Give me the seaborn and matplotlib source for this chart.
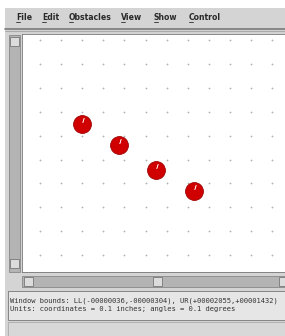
import itertools

import matplotlib.pyplot as plt
import matplotlib.patches as mpatches
import matplotlib.transforms as mtransforms
import pandas as pd
import seaborn as sns


W, H = 285, 336

MENU_ITEMS = ["File", "Edit", "Obstacles", "View", "Show", "Control"]
MENU_X = [16, 42, 69, 121, 154, 189]

GRID_COLS = [0, 1, 2, 3, 4, 5, 6, 7, 8, 9, 10, 11]
GRID_ROWS = [0, 1, 2, 3, 4, 5, 6, 7, 8, 9]

OBSTACLE_X = [2.0, 3.75, 5.5, 7.3]
OBSTACLE_Y = [3.5, 4.4, 5.45, 6.3]

STATUS_LINES = [
    "Window bounds: LL(-00000036,-00000304), UR(+00002055,+00001432)",
    "Units: coordinates = 0.1 inches; angles = 0.1 degrees",
]

GRAY = "#d4d4d4"


def box(fig, x, y, w, h, fc, ec="none", lw=0.6):
    # pixel box, origin top-left
    fig.patches.append(mpatches.Rectangle((x / W, 1 - (y + h) / H), w / W, h / H,
                                          transform=fig.transFigure, fc=fc, ec=ec, lw=lw))


def hline(fig, x0, x1, y, color, lw=1.0):
    fig.lines.append(plt.Line2D([x0 / W, x1 / W], [1 - y / H, 1 - y / H],
                                transform=fig.transFigure, color=color, lw=lw))


def draw_chrome(fig):
    box(fig, 5, 8, 280, 328, GRAY)
    for label, x in zip(MENU_ITEMS, MENU_X):
        fig.text(x / W, 1 - 17 / H, label, fontsize=5.6, fontweight="bold",
                 color="#2a2a2a", va="center", ha="left")
        hline(fig, x, x + 4, 22, "#2a2a2a", lw=0.6)
    hline(fig, 5, 285, 29, "#7a7a7a", lw=1.2)
    hline(fig, 5, 285, 31, "#aaaaaa", lw=0.8)

    # vertical scrollbar
    box(fig, 9, 35, 11, 237, "#b4b4b4", ec="#888888")
    box(fig, 10, 37, 9, 9, "#dcdcdc", ec="#777777")
    box(fig, 10, 259, 9, 9, "#dcdcdc", ec="#777777")
    # horizontal scrollbar
    box(fig, 22, 276, 263, 11, "#b4b4b4", ec="#888888")
    box(fig, 24, 277, 9, 9, "#dcdcdc", ec="#777777")
    box(fig, 153, 277, 9, 9, "#dcdcdc", ec="#777777")
    box(fig, 279, 277, 9, 9, "#dcdcdc", ec="#777777")

    # status panel
    box(fig, 8, 291, 277, 29, "#e6e6e6", ec="#777777")
    for i, line in enumerate(STATUS_LINES):
        fig.text(10 / W, 1 - (301 + i * 8.5) / H, line, fontsize=5.1,
                 family="DejaVu Sans Mono", color="#333333", va="center", ha="left")
    box(fig, 8, 322, 277, 16, "#d8d8d8", ec="#aaaaaa")


def main():
    sns.set_style("white")
    fig = plt.figure(figsize=(W / 100, H / 100), dpi=100)
    fig.patch.set_facecolor("white")
    draw_chrome(fig)

    ax = fig.add_axes([22 / W, 1 - 272 / H, 263 / W, 238 / H])
    ax.set_zorder(5)
    ax.set_facecolor("white")

    grid = pd.DataFrame(list(itertools.product(GRID_COLS, GRID_ROWS)), columns=["x", "y"])
    obstacles = pd.DataFrame({"x": OBSTACLE_X, "y": OBSTACLE_Y})

    sns.scatterplot(data=grid, x="x", y="y", ax=ax, marker="+", s=3, color="#b0b0b0",
                    linewidth=0.5, legend=False)
    sns.scatterplot(data=obstacles, x="x", y="y", ax=ax, s=165, color="#d00000",
                    edgecolor="#9e0000", linewidth=0.6, legend=False)
    # small white glint on each obstacle
    glint = mtransforms.offset_copy(ax.transData, fig=fig, x=0.8, y=3.0, units="points")
    ax.scatter(obstacles["x"], obstacles["y"], marker="$/$", s=10, color="white",
               linewidth=0.3, transform=glint, zorder=4)

    ax.set_xlim(-0.85, 11.6)
    ax.set_ylim(9.7, -0.25)
    ax.set_xticks([])
    ax.set_yticks([])
    ax.set_xlabel("")
    ax.set_ylabel("")
    for side in ax.spines.values():
        side.set_color("#777777")
        side.set_linewidth(0.6)

    fig.savefig("out.png", dpi=100)


if __name__ == "__main__":
    main()
